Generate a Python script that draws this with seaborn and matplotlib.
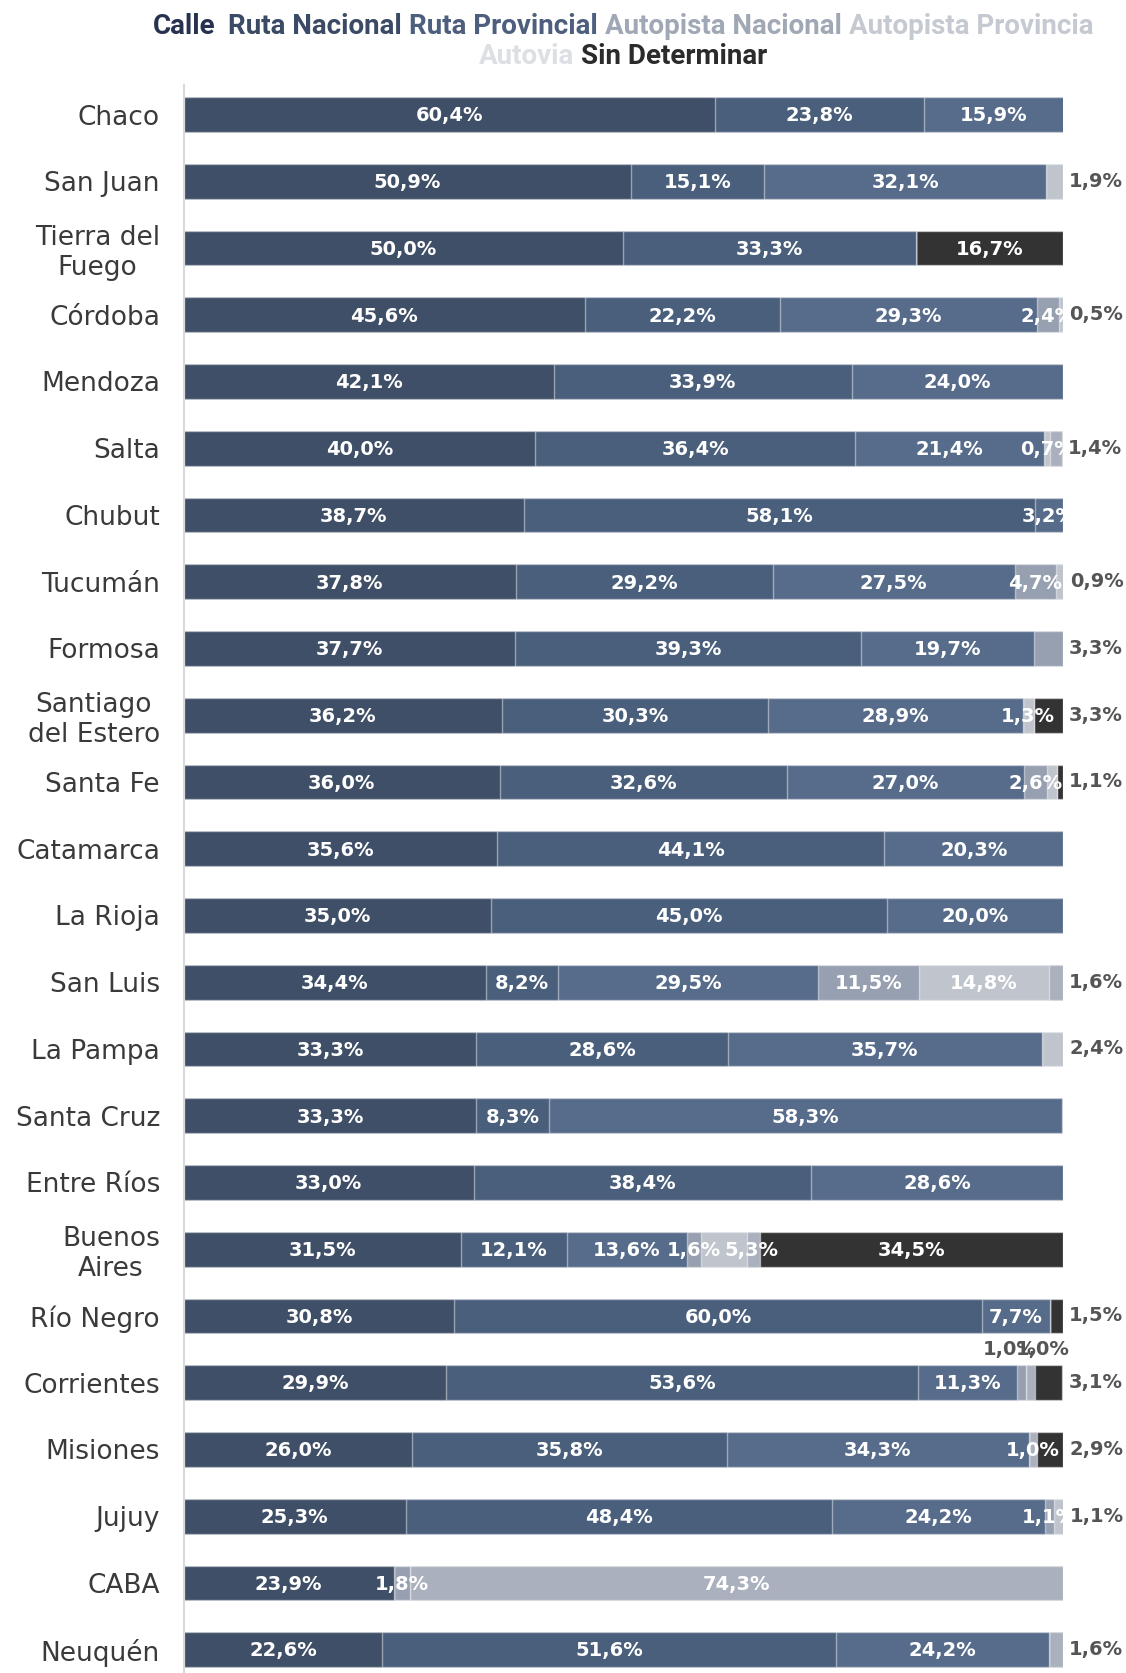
import matplotlib
matplotlib.use("Agg")
import matplotlib.pyplot as plt
import numpy as np
import pandas as pd
import seaborn as sns

sns.set_theme(style="white")
plt.rcParams["font.family"] = ["DejaVu Sans"]

STATES = [
    "Chaco", "San Juan", "Tierra del\nFuego", "Córdoba", "Mendoza", "Salta",
    "Chubut", "Tucumán", "Formosa", "Santiago\ndel Estero", "Santa Fe",
    "Catamarca", "La Rioja", "San Luis", "La Pampa", "Santa Cruz",
    "Entre Ríos", "Buenos\nAires", "Río Negro", "Corrientes", "Misiones",
    "Jujuy", "CABA", "Neuquén",
]

SERIES = ["Calle", "Ruta Nacional", "Ruta Provincial", "Autopista Nacional",
          "Autopista Provincia", "Autovia", "Sin Determinar"]

CALLE = [60.4, 50.9, 50.0, 45.6, 42.1, 40.0, 38.7, 37.8, 37.7, 36.2, 36.0, 35.6,
         35.0, 34.4, 33.3, 33.3, 33.0, 31.5, 30.8, 29.9, 26.0, 25.3, 23.9, 22.6]
RUTA_NAC = [23.8, 15.1, 33.3, 22.2, 33.9, 36.4, 58.1, 29.2, 39.3, 30.3, 32.6, 44.1,
            45.0, 8.2, 28.6, 8.3, 38.4, 12.1, 60.0, 53.6, 35.8, 48.4, 0.0, 51.6]
RUTA_PROV = [15.9, 32.1, 0.0, 29.3, 24.0, 21.4, 3.2, 27.5, 19.7, 28.9, 27.0, 20.3,
             20.0, 29.5, 35.7, 58.3, 28.6, 13.6, 7.7, 11.3, 34.3, 24.2, 0.0, 24.2]
AUT_NAC = [0.0, 0.0, 0.0, 2.4, 0.0, 0.0, 0.0, 4.7, 3.3, 0.0, 2.6, 0.0,
           0.0, 11.5, 0.0, 0.0, 0.0, 1.6, 0.0, 1.0, 0.0, 1.1, 1.8, 0.0]
AUT_PROV = [0.0, 1.9, 0.0, 0.5, 0.0, 0.7, 0.0, 0.9, 0.0, 1.3, 1.1, 0.0,
            0.0, 14.8, 2.4, 0.0, 0.0, 5.3, 0.0, 0.0, 0.0, 1.1, 0.0, 0.0]
AUTOVIA = [0.0, 0.0, 0.0, 0.0, 0.0, 1.4, 0.0, 0.0, 0.0, 0.0, 0.0, 0.0,
           0.0, 1.6, 0.0, 0.0, 0.0, 1.4, 0.0, 1.0, 1.0, 0.0, 74.3, 1.6]
SIN_DET = [0.0, 0.0, 16.7, 0.0, 0.0, 0.0, 0.0, 0.0, 0.0, 3.3, 0.7, 0.0,
           0.0, 0.0, 0.0, 0.0, 0.0, 34.5, 1.5, 3.1, 2.9, 0.0, 0.0, 0.0]

BAR_COLORS = ["#3f4f67", "#4a5f7b", "#566c8a", "#97a0b0", "#bfc4cd", "#aab0bd", "#333333"]
LEGEND_COLORS = ["#263250", "#3b4a65", "#4d5f7d", "#a0a8b5", "#c5c9d1", "#dcdfe4", "#2b2b2b"]

df = pd.DataFrame(dict(zip(SERIES, [CALLE, RUTA_NAC, RUTA_PROV, AUT_NAC,
                                    AUT_PROV, AUTOVIA, SIN_DET])), index=STATES)
cum = df.cumsum(axis=1)

fig = plt.figure(figsize=(11.26, 16.73), dpi=100)
ax = fig.add_axes([183.5 / 1126, 0, (1063 - 183.5) / 1126, (1673 - 85) / 1673])

# stacked bars: draw cumulative totals from the outermost layer inwards
for j in range(len(SERIES) - 1, -1, -1):
    layer = pd.DataFrame({"state": STATES, "value": cum.iloc[:, j].values})
    sns.barplot(data=layer, x="value", y="state", orient="h", color=BAR_COLORS[j],
                saturation=1, width=0.52, errorbar=None, ax=ax,
                edgecolor=(1, 1, 1, 0.45), linewidth=1)

ax.set_xlim(0, 100)
ax.set_ylim(23.35, -0.442)
ax.set_xlabel("")
ax.set_ylabel("")
ax.set_xticks([])
ax.set_yticks(range(len(STATES)))
ax.set_yticklabels(STATES, fontsize=19, color="#3a3a3a", multialignment="center")
ax.tick_params(axis="y", length=0, pad=17)
for side in ["top", "right", "bottom"]:
    ax.spines[side].set_visible(False)
ax.spines["left"].set_color("#d9d9d9")
ax.spines["left"].set_linewidth(1.5)

renderer = fig.canvas.get_renderer()
to_data = ax.transData.inverted()


def fmt(v):
    return f"{v:.1f}".replace(".", ",") + "%"


def data_extent(t):
    bb = t.get_window_extent(renderer)
    (x0, _), (x1, _) = to_data.transform([(bb.x0, bb.y0), (bb.x1, bb.y1)])
    return x0, x1


label_kw = dict(fontsize=14, fontweight="bold", va="center")
for i, state in enumerate(STATES):
    vals = df.loc[state].values
    ends = cum.loc[state].values
    starts = ends - vals
    shown = [j for j in range(len(SERIES))
             if vals[j] > 0 and not (j == 6 and vals[j] < 1)]
    last = shown[-1]
    tiny_light = [j for j in shown if 3 <= j <= 5 and j != last and vals[j] <= 1.0]
    prev_end = -np.inf
    for j in shown:
        v = vals[j]
        mid = starts[j] + v / 2
        if j == last and j >= 3 and v < 5:
            ax.text(ends[-1] + 0.7, i, fmt(v), ha="left", color="#555555",
                    clip_on=False, **label_kw)
        elif len(tiny_light) >= 2 and j in tiny_light:
            k = tiny_light.index(j)
            ax.text(mid + (k - 0.5) * 2.8, i - 0.5, fmt(v), ha="center",
                    color="#555555", clip_on=False, **label_kw)
        else:
            # inside labels are cut at the end of the bar area
            t = ax.text(mid, i + 0.02, fmt(v), ha="center", color="white",
                        clip_on=True, **label_kw)
            x0, x1 = data_extent(t)
            if x0 < prev_end + 0.4:
                if v < 1.5:
                    t.remove()
                    continue
                shift = prev_end + 0.4 - x0
                t.set_x(mid + shift)
                x1 += shift
            prev_end = x1

# legend as a row of coloured words
lines = [(list(range(5)), 1 - 27 / 1673), (list(range(5, 7)), 1 - 56 / 1673)]
for idx, y in lines:
    texts = []
    for k in idx:
        t = fig.text(0, y, SERIES[k], color=LEGEND_COLORS[k], fontsize=20,
                     fontweight="bold", family=["Roboto", "DejaVu Sans"], va="center")
        texts.append(t)
    gap = 7
    extra = 6 if idx[0] == 0 else 0
    widths = [t.get_window_extent(renderer).width for t in texts]
    total = sum(widths) + gap * (len(texts) - 1) + extra
    x = 623 - total / 2
    for n, (t, w) in enumerate(zip(texts, widths)):
        t.set_x(x / 1126)
        x += w + gap + (extra if n == 0 else 0)

fig.savefig("out.png", dpi=100)
